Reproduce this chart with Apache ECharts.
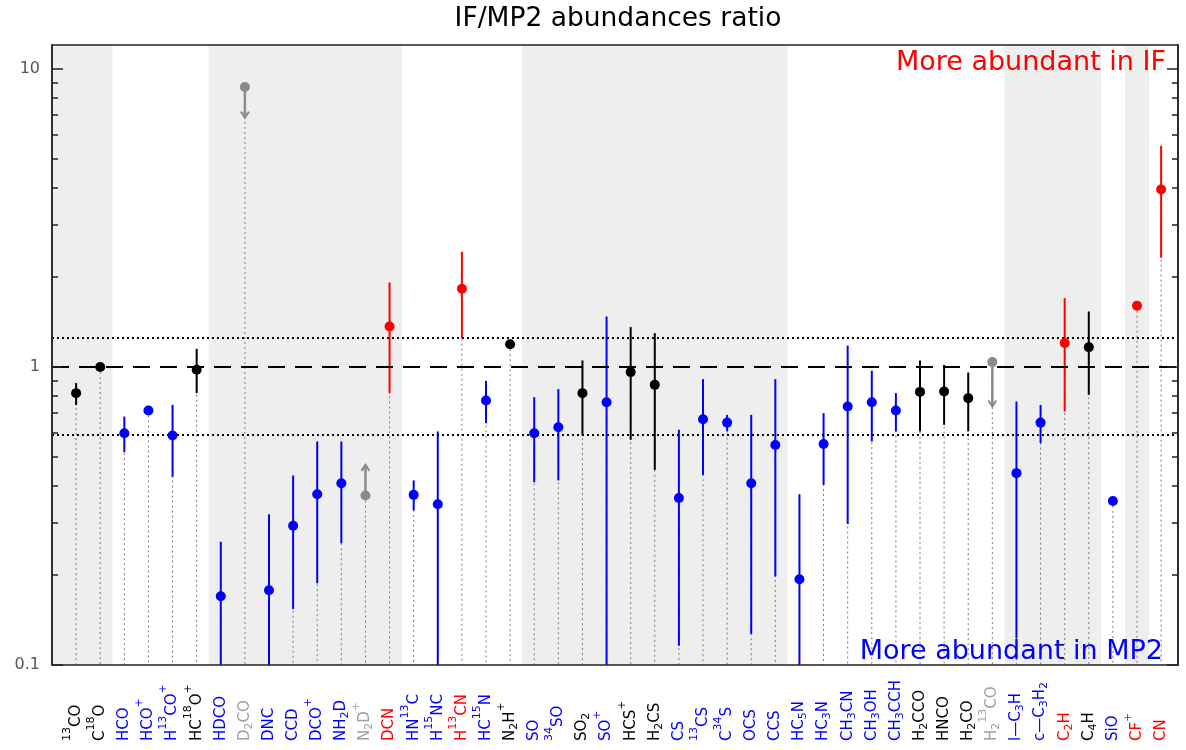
<!DOCTYPE html>
<html>
<head>
<meta charset="utf-8">
<script src="https://cdn.jsdelivr.net/npm/echarts@6/dist/echarts.min.js"></script>
<style>
html, body { margin: 0; padding: 0; background: #ffffff; }
#chart { width: 1186px; height: 750px; }
</style>
</head>
<body>
<div id="chart"></div>
<script>
// ---------------- DATA ----------------
// Molecule names: ^{..} = superscript, _{..} = subscript
const categories = [
  '^{13}CO', 'C^{18}O', 'HCO', 'HCO^{+}', 'H^{13}CO^{+}', 'HC^{18}O^{+}', 'HDCO', 'D_{2}CO',
  'DNC', 'CCD', 'DCO^{+}', 'NH_{2}D', 'N_{2}D^{+}', 'DCN', 'HN^{13}C', 'H^{15}NC', 'H^{13}CN',
  'HC^{15}N', 'N_{2}H^{+}', 'SO', '^{34}SO', 'SO_{2}', 'SO^{+}', 'HCS^{+}', 'H_{2}CS', 'CS',
  '^{13}CS', 'C^{34}S', 'OCS', 'CCS', 'HC_{5}N', 'HC_{3}N', 'CH_{3}CN', 'CH_{3}OH', 'CH_{3}CCH',
  'H_{2}CCO', 'HNCO', 'H_{2}CO', 'H_{2}^{13}CO', 'l\u2014C_{3}H', 'c\u2014C_{3}H_{2}', 'C_{2}H',
  'C_{4}H', 'SiO', 'CF^{+}', 'CN'
];
// colour class per molecule: k = black, b = blue (MP2), r = red (IF), g = grey (limit)
const colorClass = [
  'k','k','b','b','b','k','b','g',
  'b','b','b','b','g','r','b','b','r',
  'b','k','b','b','k','b','k','k','b',
  'b','b','b','b','b','b','b','b','b',
  'k','k','k','g','b','b','r',
  'k','b','r','r'
];
// IF/MP2 abundance ratio
const ratio = [
  0.816, 0.998, 0.599, 0.714, 0.588, 0.977, 0.170, 8.68,
  0.178, 0.293, 0.374, 0.407, 0.370, 1.366, 0.372, 0.346, 1.827,
  0.771, 1.191, 0.599, 0.627, 0.816, 0.761, 0.960, 0.870, 0.363,
  0.667, 0.650, 0.407, 0.547, 0.194, 0.551, 0.736, 0.761, 0.714,
  0.824, 0.826, 0.785, 1.037, 0.440, 0.650, 1.201,
  1.164, 0.355, 1.602, 3.93
];
// error bar lower / upper bounds (null = no error bar)
const errLow = [
  0.745, null, 0.517, null, 0.428, 0.816, 0.1, null,
  0.1, 0.154, 0.188, 0.256, null, 0.816, 0.330, 0.1, 1.248,
  0.647, null, 0.410, 0.416, 0.588, 0.1, 0.569, 0.451, 0.116,
  0.434, 0.607, 0.127, 0.198, 0.1, 0.402, 0.297, 0.562, 0.607,
  0.607, 0.639, 0.607, null, 0.123, 0.555, 0.708,
  0.805, null, null, 2.32
];
const errHigh = [
  0.882, null, 0.681, null, 0.745, 1.149, 0.259, null,
  0.320, 0.432, 0.562, 0.562, null, 1.918, 0.416, 0.607, 2.43,
  0.897, null, 0.791, 0.842, 1.05, 1.475, 1.359, 1.297, 0.615,
  0.909, 0.690, 0.690, 0.909, 0.374, 0.699, 1.179, 0.970, 0.816,
  1.05, 1.015, 0.957, null, 0.765, 0.745, 1.70,
  1.533, null, null, 5.51
];
// limits: 'upper' (arrow down) / 'lower' (arrow up), with arrow tip value
const limitType = {8: 'upper', 13: 'lower', 39: 'upper'};
const limitArrowEnd = {8: 6.85, 13: 0.469, 39: 0.736};
// shaded groups (first / last molecule number, 1-based)
const bandGroups = [[1, 2], [7, 14], [20, 30], [40, 43], [45, 45]];
const unityLine = 1;
const dottedLines = [1.25, 0.593];
const yMajorTicks = [0.1, 1, 10];
const yMinorTicks = [0.2, 0.3, 0.4, 0.5, 0.6, 0.7, 0.8, 0.9, 2, 3, 4, 5, 6, 7, 8, 9];
const titleText = 'IF/MP2 abundances ratio';
const noteIF = 'More abundant in IF';
const noteMP2 = 'More abundant in MP2';

// ---------------- CHART ----------------
const FONT = 'DejaVu Sans';
const X_MIN = 0, X_MAX = 46.7, Y_MIN = 0.1, Y_MAX = 12;
const markerColor = {k: '#000000', b: '#0000ff', r: '#ff0000', g: '#8a8a8a'};
const labelColor = {k: '#000000', b: '#0000ff', r: '#ff0000', g: '#a0a0a0'};
const positions = categories.map((_, i) => i + 1);

function toRich(s) {
  return s.replace(/\^\{([^}]*)\}/g, '{p|$1}').replace(/_\{([^}]*)\}/g, '{b|$1}');
}

const chart = echarts.init(document.getElementById('chart'), null, {renderer: 'canvas'});

const errData = [];
ratio.forEach((v, i) => {
  if (errLow[i] != null) errData.push([i + 1, errLow[i], errHigh[i]]);
});
const dropData = ratio.map((v, i) => [i + 1, v]);
const limitData = Object.keys(limitType).map(k => [+k, ratio[k - 1], limitArrowEnd[k]]);
const pointData = ratio.map((v, i) => ({
  value: [i + 1, v],
  itemStyle: {color: markerColor[colorClass[i]], opacity: 1}
}));
const bandData = bandGroups.map(g => [
  {xAxis: g[0] === 1 ? X_MIN : g[0] - 0.5},
  {xAxis: g[1] + 0.5}
]);

const axisLineStyle = {color: '#222222', width: 1.5};
function yAxisDef(pos, ticks, len, showLabel) {
  return {
    type: 'log', logBase: 10, min: Y_MIN, max: Y_MAX, position: pos, z: 10,
    axisLine: {show: true, lineStyle: axisLineStyle},
    axisTick: {show: true, inside: true, length: len, customValues: ticks, lineStyle: {color: '#222222', width: 1.5}},
    axisLabel: {show: showLabel, customValues: yMajorTicks, fontSize: 16, color: '#555555', fontFamily: FONT, margin: 12},
    splitLine: {show: false}, minorTick: {show: false}
  };
}

const option = {
  animation: false,
  backgroundColor: '#ffffff',
  grid: {left: 52, right: 8, top: 45, bottom: 85, containLabel: false, outerBoundsMode: 'none'},
  xAxis: [{
    type: 'value', min: X_MIN, max: X_MAX, interval: 1, position: 'bottom', z: 10,
    axisLine: {show: true, onZero: false, lineStyle: axisLineStyle},
    axisTick: {show: false},
    splitLine: {show: false},
    axisLabel: {
      customValues: positions,
      showMinLabel: true, showMaxLabel: true, hideOverlap: false,
      rotate: 90, align: 'left', verticalAlign: 'middle', margin: 76,
      fontSize: 15, fontFamily: FONT, lineHeight: 18,
      color: (v) => labelColor[colorClass[Math.round(+v) - 1]] || '#000',
      formatter: (v) => {
        const k = Math.round(+v);
        return (k >= 1 && k <= categories.length) ? toRich(categories[k - 1]) : '';
      },
      rich: {
        p: {fontSize: 11, fontFamily: FONT, lineHeight: 18, padding: [-9, 0, 9, 0]},
        b: {fontSize: 11, fontFamily: FONT, lineHeight: 18, padding: [4, 0, -4, 0]}
      }
    }
  }, {
    type: 'value', min: X_MIN, max: X_MAX, position: 'top', z: 10,
    axisLine: {show: true, onZero: false, lineStyle: axisLineStyle},
    axisTick: {show: false}, axisLabel: {show: false}, splitLine: {show: false}
  }],
  yAxis: [
    yAxisDef('left', yMajorTicks, 11, true),
    yAxisDef('left', yMinorTicks, 6, false),
    yAxisDef('right', yMajorTicks, 11, false),
    yAxisDef('right', yMinorTicks, 6, false)
  ],
  graphic: [
    {type: 'text', x: 618, y: 19, z: 100, style: {text: titleText, fill: '#000', font: '26.5px "' + FONT + '"',
      align: 'center', verticalAlign: 'middle', textAlign: 'center', textVerticalAlign: 'middle'}},
    {type: 'text', x: 1166, y: 63, z: 100, style: {text: noteIF, fill: '#ff0000', font: '27px "' + FONT + '"',
      align: 'right', verticalAlign: 'middle', textAlign: 'right', textVerticalAlign: 'middle'}},
    {type: 'text', x: 1163, y: 652, z: 100, style: {text: noteMP2, fill: '#0000ff', font: '27px "' + FONT + '"',
      align: 'right', verticalAlign: 'middle', textAlign: 'right', textVerticalAlign: 'middle'}}
  ],
  series: [
    {
      name: 'bands', type: 'scatter', data: [], z: 0, silent: true,
      markArea: {silent: true, itemStyle: {color: '#eeeeee', borderWidth: 0}, label: {show: false}, data: bandData}
    },
    {
      name: 'drop', type: 'custom', z: 2, silent: true, data: dropData,
      encode: {x: 0, y: 1},
      renderItem: (params, api) => {
        const p1 = api.coord([api.value(0), api.value(1)]);
        const p2 = api.coord([api.value(0), Y_MIN]);
        return {type: 'line', shape: {x1: p1[0], y1: p1[1], x2: p2[0], y2: p2[1]},
          style: {stroke: '#7a7a7a', lineWidth: 1, lineDash: [2, 3]}};
      }
    },
    {
      name: 'refs', type: 'scatter', data: [], z: 3, silent: true,
      markLine: {
        silent: true, symbol: ['none', 'none'], label: {show: false},
        data: [
          {yAxis: unityLine, lineStyle: {color: '#000', width: 2, type: [17, 10]}},
          {yAxis: dottedLines[0], lineStyle: {color: '#000', width: 2, type: [2, 3]}},
          {yAxis: dottedLines[1], lineStyle: {color: '#000', width: 2, type: [2, 3]}}
        ]
      }
    },
    {
      name: 'errors', type: 'custom', z: 4, silent: true, data: errData,
      encode: {x: 0, y: [1, 2]},
      renderItem: (params, api) => {
        const x = api.value(0);
        const p1 = api.coord([x, api.value(1)]);
        const p2 = api.coord([x, api.value(2)]);
        return {type: 'line', shape: {x1: p1[0], y1: p1[1], x2: p2[0], y2: p2[1]},
          style: {stroke: markerColor[colorClass[x - 1]], lineWidth: 2}};
      }
    },
    {
      name: 'limits', type: 'custom', z: 4, silent: true, data: limitData,
      encode: {x: 0, y: [1, 2]},
      renderItem: (params, api) => {
        const x = api.value(0);
        const p1 = api.coord([x, api.value(1)]);
        const p2 = api.coord([x, api.value(2)]);
        const dir = p2[1] > p1[1] ? 1 : -1;
        return {type: 'group', children: [
          {type: 'line', shape: {x1: p1[0], y1: p1[1], x2: p2[0], y2: p2[1]},
            style: {stroke: '#8a8a8a', lineWidth: 2.5}},
          {type: 'polyline', shape: {points: [[p2[0] - 4, p2[1] - dir * 6], [p2[0], p2[1]], [p2[0] + 4, p2[1] - dir * 6]]},
            style: {stroke: '#8a8a8a', lineWidth: 2, fill: null}}
        ]};
      }
    },
    {
      name: 'ratio', type: 'scatter', z: 5, silent: true, symbol: 'circle', symbolSize: 10,
      itemStyle: {opacity: 1},
      data: pointData
    }
  ]
};
chart.setOption(option);
</script>
</body>
</html>
